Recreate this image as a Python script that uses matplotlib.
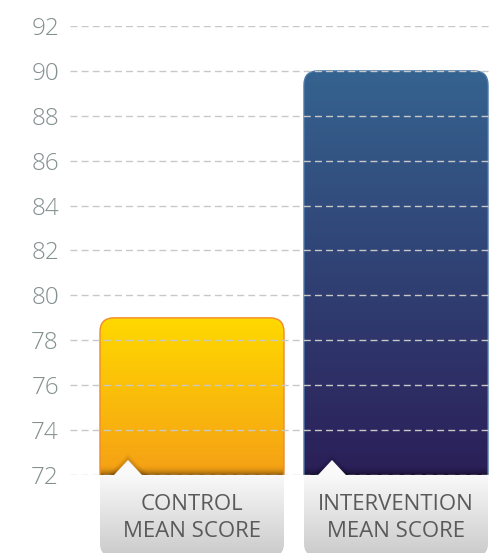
import numpy as np
import matplotlib
matplotlib.use("Agg")
import matplotlib.pyplot as plt
from matplotlib.patches import FancyBboxPatch, Polygon
from matplotlib.colors import to_rgb

# mean scores per group
groups = ["CONTROL\nMEAN SCORE", "INTERVENTION\nMEAN SCORE"]
scores = [79, 90]
yticks = list(range(72, 93, 2))

# top / bottom colours of each bar
top_colors = ["#ffd900", "#356390"]
bottom_colors = ["#f5a015", "#2b1f58"]
edge_colors = ["#f08a2c", "#4a78aa"]

plt.rcParams["font.family"] = ["Open Sans", "DejaVu Sans"]

W, H = 491, 553
fig = plt.figure(figsize=(W / 100, H / 100), dpi=100)
ax = fig.add_axes([70 / W, (H - 475) / H, 421 / W, 449 / H])

ymin, ymax = 72, 92
bar_w = 0.902
px_x = 1 / 204.0            # data units per pixel along x
px_y = (ymax - ymin) / 449  # data units per pixel along y
aspect = px_y / px_x

ax.set_xlim(-0.598, -0.598 + 421 * px_x)
ax.set_ylim(ymin, ymax)


def vgrad(c_top, c_bot, n=400, shadow=0.0, shadow_px=10, height_px=100):
    t = np.linspace(0, 1, n)[:, None]
    a, b = np.array(to_rgb(c_top)), np.array(to_rgb(c_bot))
    img = a * (1 - t) + b * t
    if shadow:
        # darken the last few pixels above the label box
        frac = shadow_px / height_px
        s = np.clip((t - (1 - frac)) / frac, 0, 1) ** 2
        img = img * (1 - shadow * s)
    return img[:, None, :]


label_h = 3.6  # label box height in y units
for i, (name, val) in enumerate(zip(groups, scores)):
    x0 = i - bar_w / 2
    r = 14 * px_x
    bar = FancyBboxPatch((x0, ymin - 2), bar_w, val - ymin + 2,
                         boxstyle=f"round,pad=0,rounding_size={r}",
                         mutation_aspect=aspect,
                         facecolor="none", edgecolor=edge_colors[i],
                         linewidth=1.0, zorder=1)
    ax.add_patch(bar)
    hpx = (val - ymin) / px_y
    im = ax.imshow(vgrad(top_colors[i], bottom_colors[i], shadow=0.4,
                         height_px=hpx),
                   extent=(x0, x0 + bar_w, ymin, val), aspect="auto",
                   interpolation="bilinear", zorder=0.9)
    im.set_clip_path(bar)

    # label box under the bar
    box = FancyBboxPatch((x0, ymin - label_h), bar_w, label_h + 1,
                         boxstyle=f"round,pad=0,rounding_size={12 * px_x}",
                         mutation_aspect=aspect,
                         facecolor="none", edgecolor="none",
                         zorder=3, clip_on=False)
    ax.add_patch(box)
    lim = ax.imshow(vgrad("#f9f9f9", "#cbcbcb"),
                    extent=(x0, x0 + bar_w, ymin - label_h, ymin),
                    aspect="auto", interpolation="bilinear", zorder=3)
    lim.set_clip_box(fig.bbox)
    lim.set_clip_path(box)

    # little pointer on top of the label box
    cx = x0 + 28 * px_x
    for k, alpha in [(6, 0.04), (4, 0.05), (2, 0.06)]:
        ax.add_patch(Polygon([(cx - (15 + k) * px_x, ymin),
                              (cx, ymin + (15 + k) * px_y),
                              (cx + (15 + k) * px_x, ymin)],
                             closed=True, facecolor="black", alpha=alpha,
                             edgecolor="none", zorder=2.8))
    ax.add_patch(Polygon([(cx - 15 * px_x, ymin - 0.05),
                          (cx, ymin + 15 * px_y),
                          (cx + 15 * px_x, ymin - 0.05)],
                         closed=True, facecolor="#f9f9f9",
                         edgecolor="none", zorder=3.1))

    ax.text(i, ymin - 43 * px_y, name, ha="center", va="center",
            fontsize=16, color="#5a5a5a", linespacing=1.32,
            zorder=4, clip_on=False)

ax.set_yticks(yticks)
ax.set_xticks([])
ax.tick_params(axis="y", length=0, pad=8, labelsize=17.5, labelcolor="#83908f")
for lbl in ax.get_yticklabels():
    lbl.set_fontweight("light")
ax.grid(axis="y", color="#c8c8c8", linestyle=(0, (5, 3)), linewidth=1.0)
ax.set_axisbelow(False)
for s in ax.spines.values():
    s.set_visible(False)
ax.patch.set_visible(False)

fig.savefig("out.png", dpi=100)
